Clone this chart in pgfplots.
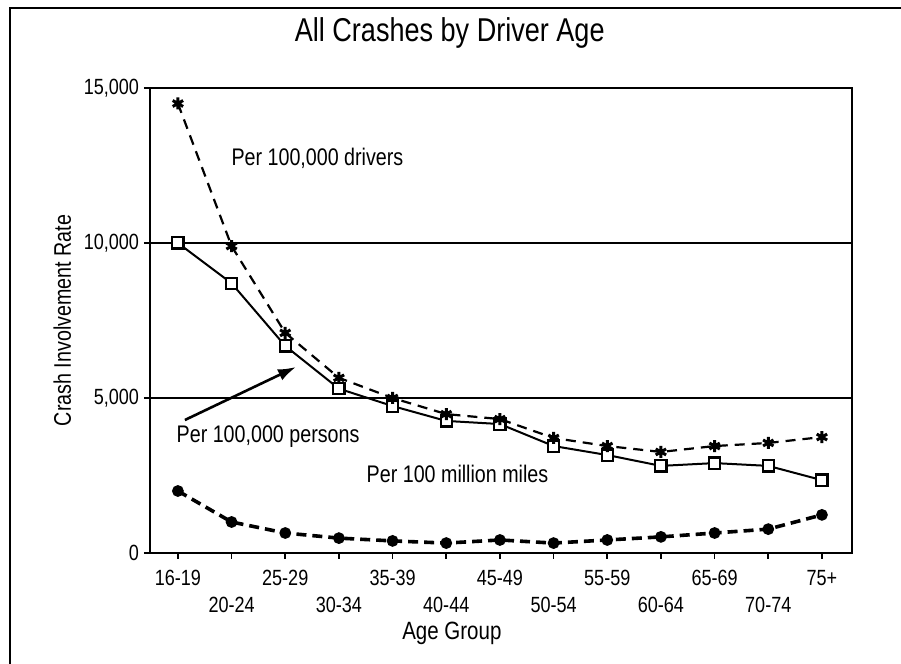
\documentclass[border=0pt]{standalone}
\usepackage{fontspec}
\setmainfont{Liberation Sans}[FakeStretch=0.82]
\usepackage{pgfplots}
\pgfplotsset{compat=1.18}
\usetikzlibrary{arrows.meta}

\begin{document}
\begin{tikzpicture}
\useasboundingbox (-75pt,-55.5pt) rectangle (375.5pt,276.5pt);
\begin{axis}[
    scale only axis,
    width=351pt, height=232.5pt,
    xmin=-0.52, xmax=12.56,
    ymin=0, ymax=15000,
    xtick={0,...,12},
    xticklabels={\strut 16-19,{\strut\\\strut 20-24},\strut 25-29,{\strut\\\strut 30-34},\strut 35-39,{\strut\\\strut 40-44},\strut 45-49,{\strut\\\strut 50-54},\strut 55-59,{\strut\\\strut 60-64},\strut 65-69,{\strut\\\strut 70-74},\strut 75+},
    xticklabel style={font=\fontsize{11}{13.5}\selectfont, align=center, anchor=north, inner sep=1pt, yshift=-2.5pt},
    ytick={0,5000,10000,15000},
    yticklabel style={font=\fontsize{11}{12}\selectfont, xshift=1pt},
    scaled y ticks=false,
    /pgf/number format/1000 sep={,},
    /pgf/number format/assume math mode=true,
    tick pos=left,
    tick align=outside,
    major tick length=3pt,
    tick style={black, line width=0.8pt},
    axis line style={line width=0.9pt},
    ymajorgrids,
    grid style={black, line width=0.7pt},
    xlabel={Age Group},
    xlabel style={font=\fontsize{12.5}{14}\selectfont, at={(axis description cs:0.43,-0.172)}, anchor=center},
    ylabel={Crash Involvement Rate},
    ylabel style={font=\fontsize{12}{14}\selectfont, at={(axis description cs:-0.125,0.5)}, anchor=center},
    title={All Crashes by Driver Age},
    title style={font=\fontsize{16.5}{18}\selectfont, at={(axis description cs:0.427,1.092)}, anchor=center},
    clip=false,
]
% per 100,000 persons
\addplot[black, line width=1pt, mark=square*, mark size=2.8pt, mark options={fill=white, line width=1.1pt}]
coordinates {
    (0,10000) (1,8700) (2,6680) (3,5300) (4,4740) (5,4260) (6,4160)
    (7,3450) (8,3160) (9,2810) (10,2900) (11,2810) (12,2350)
};
% per 100,000 drivers
\addplot[black, line width=1.1pt, dash pattern=on 5pt off 3.5pt, mark=asterisk, mark size=3pt, mark options={solid, line width=1.5pt}]
coordinates {
    (0,14500) (1,9900) (2,7100) (3,5650) (4,5000) (5,4480) (6,4320)
    (7,3710) (8,3450) (9,3260) (10,3450) (11,3550) (12,3740)
};
% per 100 million miles
\addplot[black, line width=1.8pt, dash pattern=on 5pt off 3pt, mark=*, mark size=2pt, mark options={solid}]
coordinates {
    (0,2000) (1,1000) (2,645) (3,480) (4,390) (5,320) (6,420)
    (7,320) (8,420) (9,520) (10,645) (11,770) (12,1230)
};
\node[font=\fontsize{12}{14}\selectfont] at (axis cs:2.6,12740) {Per 100,000 drivers};
\node[font=\fontsize{12}{14}\selectfont] at (axis cs:1.68,3740) {Per 100,000 persons};
\node[font=\fontsize{12}{14}\selectfont] at (axis cs:5.21,2550) {Per 100 million miles};
\draw[line width=1.3pt, -{Latex[length=9pt, width=6pt]}] (axis cs:0.13,4290) -- (axis cs:2.2,6000);
\end{axis}
\draw[line width=1.2pt] (-70pt,-55.5pt) -- (-70pt,272.5pt) -- (375.5pt,272.5pt);
\end{tikzpicture}
\end{document}
